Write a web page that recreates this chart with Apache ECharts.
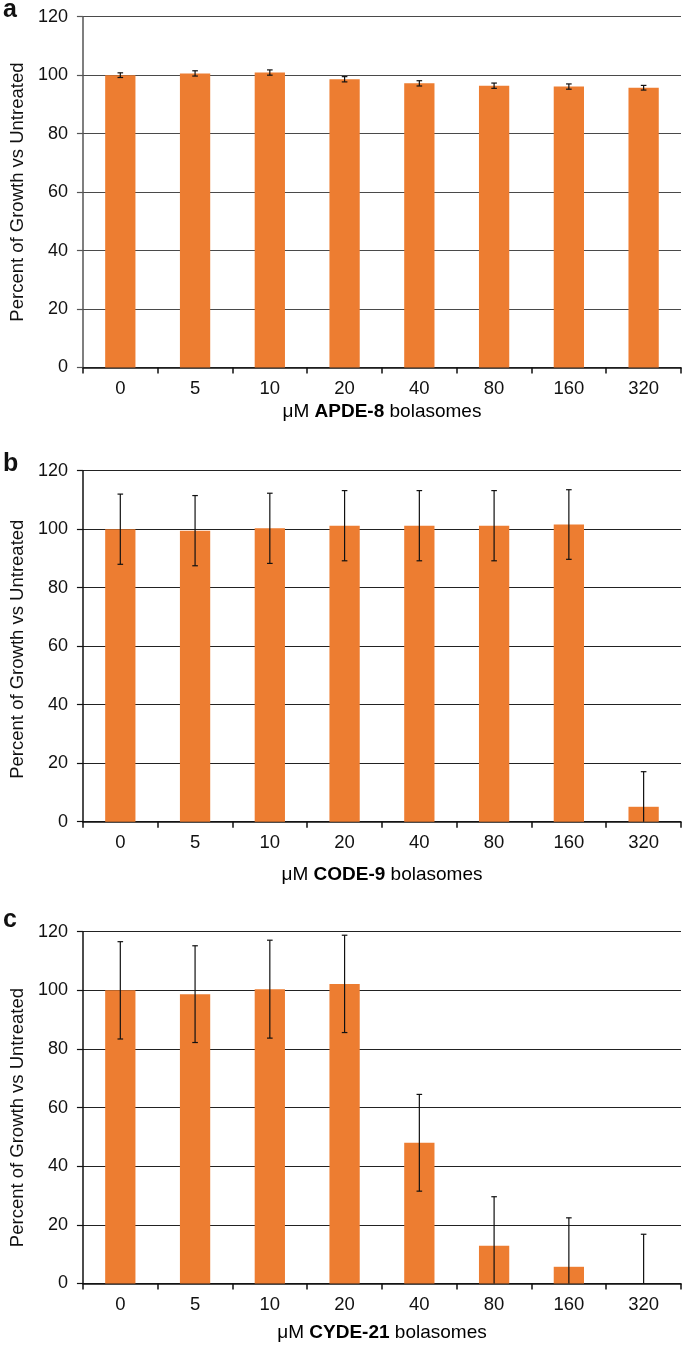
<!DOCTYPE html>
<html>
<head>
<meta charset="utf-8">
<script src="https://cdn.jsdelivr.net/npm/echarts@6/dist/echarts.min.js"></script>
<style>
html,body{margin:0;padding:0;background:#fff;}
#chart{width:685px;height:1345px;}
</style>
</head>
<body>
<div id="chart"></div>
<script>
// ---- data ----
const categories = ['0', '5', '10', '20', '40', '80', '160', '320'];
const panelLetters = ['a', 'b', 'c'];
const compoundNames = ['APDE-8', 'CODE-9', 'CYDE-21'];
const yAxisTitle = 'Percent of Growth vs Untreated';
const yMin = 0, yMax = 120, yStep = 20;

const aValues = [100.0, 100.6, 100.9, 98.6, 97.2, 96.4, 96.1, 95.7];
const aErrors = [0.8, 0.9, 0.9, 0.9, 0.9, 0.9, 0.9, 0.8];
const bValues = [100.0, 99.5, 100.3, 101.2, 101.2, 101.2, 101.6, 5.1];
const bErrors = [12.0, 12.0, 12.0, 12.0, 12.0, 12.0, 11.9, 12.0];
const cValues = [100.0, 98.7, 100.4, 102.2, 48.0, 12.9, 5.7, 0];
const cErrors = [16.6, 16.5, 16.7, 16.6, 16.5, 16.7, 16.7, 16.8];

const panelValues = [aValues, bValues, cValues];
const panelErrors = [aErrors, bErrors, cErrors];

// ---- layout ----
const FONT = 'Liberation Sans, Arial, sans-serif';
const grids = [
  {left: 76, width: 605, top: 16.7, height: 350.8},
  {left: 76, width: 605, top: 470.7, height: 351},
  {left: 76, width: 605, top: 931.7, height: 351.8}
];
const nameGaps = [34.5, 43.5, 39.5];
const yNamePads = [[0, 0, 0, 0], [0, 6, 0, 0], [0, 20, 0, 0]];
const letterBaselines = [18, 472, 928];

const chart = echarts.init(document.getElementById('chart'), null, {renderer: 'canvas'});

const option = {
  animation: false,
  backgroundColor: '#fff',
  grid: grids.map(g => Object.assign({containLabel: false}, g)),
  xAxis: grids.map((g, i) => ({
    type: 'category',
    gridIndex: i,
    data: categories,
    boundaryGap: true,
    name: 'μM {b|' + compoundNames[i] + '} bolasomes',
    nameLocation: 'middle',
    nameGap: nameGaps[i],
    nameTextStyle: {
      fontFamily: FONT, fontSize: 19, color: '#000',
      rich: {b: {fontFamily: FONT, fontSize: 19, fontWeight: 'bold', color: '#000'}}
    },
    axisLine: {show: true, lineStyle: {color: '#111', width: 1.5}},
    axisTick: {show: true, alignWithLabel: false, length: 6, lineStyle: {color: '#111', width: 1.5}},
    axisLabel: {fontFamily: FONT, fontSize: 18.5, color: '#111', margin: 12},
    splitLine: {show: false}
  })),
  yAxis: grids.map((g, i) => ({
    type: 'value',
    gridIndex: i,
    min: yMin, max: yMax, interval: yStep,
    name: yAxisTitle,
    nameLocation: 'middle',
    nameRotate: 90,
    nameGap: 52,
    nameTextStyle: {fontFamily: FONT, fontSize: 18.5, color: '#111', padding: yNamePads[i]},
    axisLine: {show: true, lineStyle: {color: i === 0 ? '#555' : '#111', width: 1.5}},
    axisTick: {show: true, length: 6, lineStyle: {color: i === 0 ? '#555' : '#111', width: 1.2}},
    axisLabel: {fontFamily: FONT, fontSize: 18, color: '#111', margin: 15},
    splitLine: {show: true, lineStyle: {color: i === 0 ? '#4a4a4a' : '#222', width: 1.2}}
  })),
  series: [],
  graphic: panelLetters.map((l, i) => ({
    type: 'text',
    left: 3,
    top: letterBaselines[i] - 20,
    style: {text: l, font: 'bold 25px ' + FONT, fill: '#111', textVerticalAlign: 'top'}
  }))
};

panelValues.forEach((vals, i) => {
  option.series.push({
    type: 'bar',
    xAxisIndex: i, yAxisIndex: i,
    data: vals,
    barWidth: '40.5%',
    itemStyle: {color: '#ED7D31'},
    z: 2
  });
  const errData = vals.map((v, k) => [k, v, panelErrors[i][k]]);
  option.series.push({
    type: 'custom',
    xAxisIndex: i, yAxisIndex: i,
    data: errData,
    z: 5,
    renderItem: function (params, api) {
      const x = api.value(0);
      const v = api.value(1);
      const e = api.value(2);
      const hi = v + e;
      const lo = Math.max(yMin, v - e);
      const pHi = api.coord([x, hi]);
      const pLo = api.coord([x, lo]);
      const cap = 2.8;
      const style = {stroke: '#111', lineWidth: 1.2, fill: null};
      const children = [
        {type: 'line', shape: {x1: pHi[0], y1: pHi[1], x2: pLo[0], y2: pLo[1]}, style: style},
        {type: 'line', shape: {x1: pHi[0] - cap, y1: pHi[1], x2: pHi[0] + cap, y2: pHi[1]}, style: style}
      ];
      if (v - e >= yMin) {
        children.push({type: 'line', shape: {x1: pLo[0] - cap, y1: pLo[1], x2: pLo[0] + cap, y2: pLo[1]}, style: style});
      }
      return {type: 'group', children: children};
    }
  });
});

chart.setOption(option);
</script>
</body>
</html>
